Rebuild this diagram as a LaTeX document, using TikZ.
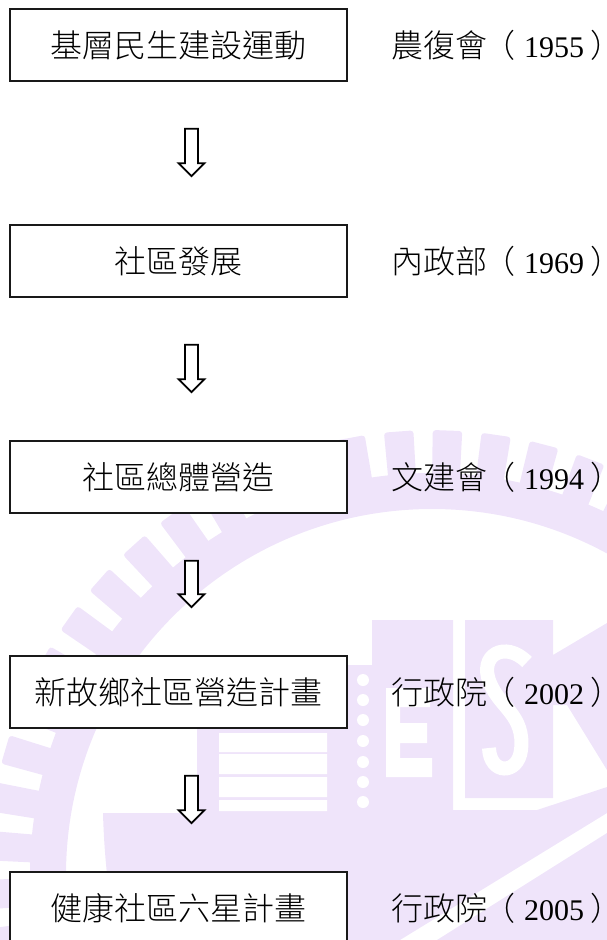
\documentclass[tikz,border=0pt]{standalone}
\usepackage{fontspec}
\setmainfont{Noto Sans CJK TC Light}
\newfontfamily\latin{Liberation Serif}
\usepackage{xcolor}
\usepackage{tikz}
\usetikzlibrary{calc}
\definecolor{wmark}{HTML}{EFE4FA}
\def\stage#1#2#3{\node[stagebox] (#1) at (178.5,#2) {#3}}
\def\org#1#2#3#4{\node[orglabel] (#1) at (391,#2) {#3\kern-4pt（\kern9pt{\latin\fontsize{30}{36}\selectfont #4}\kern6pt）\kern-20pt}}
\def\flow#1#2{\draw[hollow] ([xshift=13pt,yshift=-47pt]#1.south) to ([xshift=13pt,yshift=48pt]#2.north)}
\tikzstyle{stagebox}=[draw=black!90,fill=white,line width=1.6pt,minimum width=337pt,minimum height=72pt,inner sep=0pt,font=\fontsize{32}{38}\selectfont]
\tikzstyle{orglabel}=[anchor=west,inner sep=0pt,font=\fontsize{32}{38}\selectfont]
\tikzstyle{wm}=[fill=wmark,draw=none]
\tikzstyle{wmw}=[fill=white,draw=none]
\tikzstyle{hollow}=[draw=black,fill=white,line width=1.8pt,to path={let \p1=(\tikztostart),\p2=(\tikztotarget) in (\x1-6.5pt,\y1) -- (\x1+6.5pt,\y1) -- (\x1+6.5pt,\y2+13pt) -- (\x1+13pt,\y2+13pt) -- (\x2,\y2) -- (\x1-13pt,\y2+13pt) -- (\x1-6.5pt,\y2+13pt) -- cycle}]

\begin{document}
\begin{tikzpicture}[x=1pt,y=-1pt]
    \clip (0,0) rectangle (607,940);
    \fill[wm,even odd rule] (432,875) circle (402pt) circle (366pt);
    \foreach \k in {-4,...,17} {
        \pgfmathsetmacro\a{88+6.3*\k}
        \fill[wm,rounded corners=3pt,shift={(432,875)}] (\a-2:398pt) -- (\a-1.9:445pt) -- (\a+1.9:445pt) -- (\a+2:398pt) -- cycle;
    }
    \fill[wm] (197,700) -- (340,700) -- (340,665) -- (372,665) -- (372,620) -- (453,620) -- (453,810) -- (537,810) -- (607,787) -- (607,813) -- (400,940) -- (118,940) .. controls (108,900) and (104,850) .. (103,813) -- (197,813) -- cycle;
    \fill[wm] (465,620) -- (553,620) -- (553,655) -- (607,623) -- (607,770) -- (567,705) -- (553,705) -- (553,798) -- (465,798) -- cycle;
    \fill[wm] (607,833) -- (607,940) -- (437,940) -- cycle;
    \fill[wmw] (219,733) rectangle (327,752) (219,754) rectangle (327,774) (219,777) rectangle (327,797) (219,800) rectangle (327,811);
    \foreach \y in {680,700,720,741,762,782,802} \fill[wmw] (363,\y) circle (6pt);
    \fill[wmw] (386,688) rectangle (400,777) (386,688) rectangle (430,707) (386,723) rectangle (427,743) (386,758) rectangle (432,777);
    \draw[white,line width=14pt] (527,662) .. controls (505,640) and (478,655) .. (490,683) .. controls (500,708) and (525,715) .. (521,750) .. controls (518,775) and (490,775) .. (489,748);
    \stage{base}{45}{基層民生建設運動};
    \stage{develop}{261}{社區發展};
    \stage{build}{477}{社區總體營造};
    \stage{hometown}{692}{新故鄉社區營造計畫};
    \stage{health}{908}{健康社區六星計畫};
    \org{jcrr}{45}{農復會}{1955};
    \org{moi}{261}{內政部}{1969};
    \org{cca}{477}{文建會}{1994};
    \org{ey}{692}{行政院}{2002};
    \org{eyb}{908}{行政院}{2005};
    \flow{base}{develop};
    \flow{develop}{build};
    \flow{build}{hometown};
    \flow{hometown}{health};
  \end{tikzpicture}
\end{document}
